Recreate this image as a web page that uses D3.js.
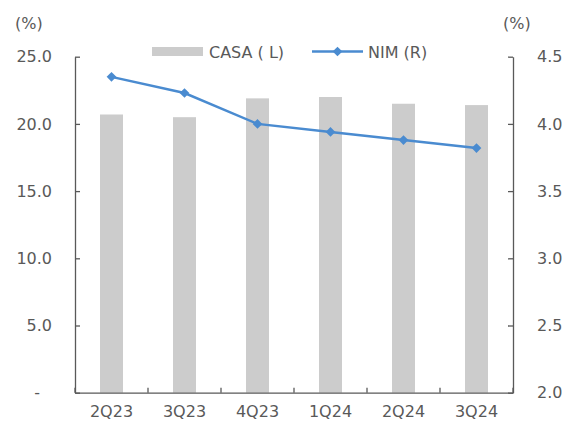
<!DOCTYPE html>
<html><head><meta charset="utf-8">
<script src="https://cdn.jsdelivr.net/npm/d3@7/dist/d3.min.js"></script>
<style>
html,body{margin:0;padding:0;background:#fff;}
text{font-family:"DejaVu Sans",Verdana,sans-serif;fill:#595959;}
</style></head>
<body>
<svg id="chart" width="571" height="427"></svg>
<script>
const categories = ["2Q23","3Q23","4Q23","1Q24","2Q24","3Q24"];
const casa = [20.7, 20.5, 21.9, 22.0, 21.5, 21.4];
const nim = [4.35, 4.23, 4.00, 3.94, 3.88, 3.82];
const leftTicks = [0, 5, 10, 15, 20, 25];
const rightTicks = [2.0, 2.5, 3.0, 3.5, 4.0, 4.5];
const seriesNames = ["CASA ( L)", "NIM (R)"];

const svg = d3.select("#chart");
const L = 75, R = 513, T = 56.7, B = 392.7;
const fs = 16;
const axisColor = "#595959";
const barColor = "#cccccc";
const lineColor = "#4a8bd0";

const x = d3.scaleBand().domain(categories).range([L, R]).paddingInner(0.685).paddingOuter(0.3425);
const xb = d3.scaleBand().domain(categories).range([L, R]);
const yL = d3.scaleLinear().domain([0, 25]).range([B, T]);
const yR = d3.scaleLinear().domain([2.0, 4.5]).range([B, T]);

// bars
svg.append("g").selectAll("rect").data(casa).join("rect")
  .attr("x", (d,i) => x(categories[i]))
  .attr("width", x.bandwidth())
  .attr("y", d => yL(d))
  .attr("height", d => B - yL(d))
  .attr("fill", barColor);

// left axis
const gl = svg.append("g").attr("transform", `translate(${L},0)`)
  .call(d3.axisLeft(yL).tickValues(leftTicks).tickSizeInner(-5).tickSizeOuter(0)
    .tickFormat(d => d === 0 ? "-" : d3.format(".1f")(d)).tickPadding(23));
gl.select(".domain").attr("stroke", axisColor).attr("stroke-width", 1.3);
gl.selectAll(".tick line").attr("stroke", axisColor).attr("stroke-width", 1.3);
gl.selectAll(".tick text").attr("font-size", fs).attr("font-family", "DejaVu Sans").attr("fill", "#595959")
  .attr("dx", d => d === 0 ? -12 : 0);

// right axis
const gr = svg.append("g").attr("transform", `translate(${R},0)`)
  .call(d3.axisRight(yR).tickValues(rightTicks).tickSizeInner(-5).tickSizeOuter(0)
    .tickFormat(d3.format(".1f")).tickPadding(24));
gr.select(".domain").attr("stroke", axisColor).attr("stroke-width", 1.3);
gr.selectAll(".tick line").attr("stroke", axisColor).attr("stroke-width", 1.3);
gr.selectAll(".tick text").attr("font-size", fs).attr("font-family", "DejaVu Sans").attr("fill", "#595959");

// bottom axis
const gb = svg.append("g").attr("transform", `translate(0,${B})`)
  .call(d3.axisBottom(xb).tickSize(0).tickPadding(13));
gb.select(".domain").attr("stroke", axisColor).attr("stroke-width", 1.3);
gb.selectAll(".tick text").attr("font-size", fs).attr("font-family", "DejaVu Sans").attr("fill", "#595959");
// category boundary ticks
const bounds = categories.map(c => xb(c)).concat([R]);
gb.selectAll(".bt").data(bounds).join("line")
  .attr("x1", d => d).attr("x2", d => d).attr("y1", 0).attr("y2", -5)
  .attr("stroke", axisColor).attr("stroke-width", 1.3);

// line
const line = d3.line().x((d,i) => xb(categories[i]) + xb.bandwidth()/2).y(d => yR(d));
svg.append("path").datum(nim).attr("d", line).attr("fill", "none")
  .attr("stroke", lineColor).attr("stroke-width", 2.5);
const diamond = d3.symbol().type(d3.symbolDiamond2).size(60);
svg.append("g").selectAll("path").data(nim).join("path")
  .attr("d", diamond)
  .attr("transform", (d,i) => `translate(${xb(categories[i]) + xb.bandwidth()/2},${yR(d)})`)
  .attr("fill", lineColor);

// unit labels
svg.append("text").attr("x", 15).attr("y", 29).attr("font-size", fs).text("(%)");
svg.append("text").attr("x", 503).attr("y", 29).attr("font-size", fs).text("(%)");

// legend
const lg = svg.append("g");
lg.append("rect").attr("x", 152).attr("y", 47).attr("width", 51).attr("height", 9).attr("fill", barColor);
lg.append("text").attr("x", 209).attr("y", 57.5).attr("font-size", fs).text(seriesNames[0]);
lg.append("line").attr("x1", 312).attr("x2", 363).attr("y1", 51.5).attr("y2", 51.5)
  .attr("stroke", lineColor).attr("stroke-width", 2.5);
lg.append("path").attr("d", diamond).attr("transform", "translate(337.5,51.5)").attr("fill", lineColor);
lg.append("text").attr("x", 368).attr("y", 57.5).attr("font-size", fs).text(seriesNames[1]);
</script>
</body></html>
